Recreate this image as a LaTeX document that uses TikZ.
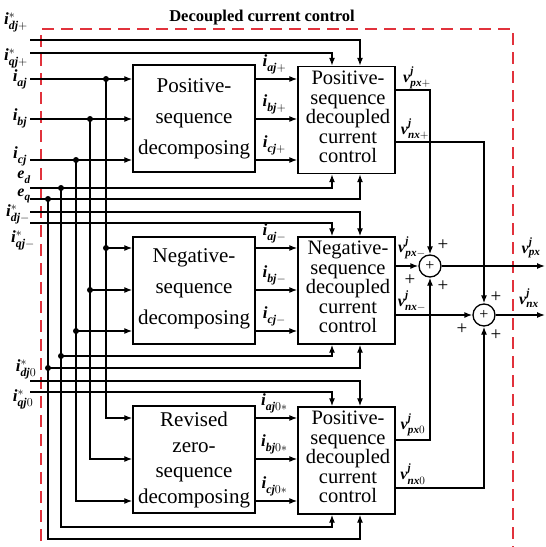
\RequirePackage{fix-cm}
\documentclass[tikz,border=0pt]{standalone}
\usepackage{amsmath}
\usepackage{fontspec}
\setmainfont{Liberation Serif}
\usetikzlibrary{arrows.meta,calc}
\definecolor{dred}{RGB}{225,50,60}
\newcommand\bs[1]{\text{\bfseries\itshape #1}}
\newcommand\sig[3]{\textbf{\textit{#1}}\ensuremath{^{#2}_{#3}}}
\begin{document}
\begin{tikzpicture}[x=1pt,y=-1pt,
 wire/.style={line width=1.3pt},
 arr/.style={wire,-{Latex[length=8pt,width=6pt]}},
 box/.style={draw,line width=1.4pt,inner sep=0pt,minimum height=107pt},
 dbox/.style={box,minimum width=122pt},
 cbox/.style={box,minimum width=97pt},
 btxt/.style={font=\fontsize{21}{31}\selectfont,align=center,inner sep=0pt},
 ztxt/.style={font=\fontsize{21}{25.5}\selectfont,align=center,inner sep=0pt},
 ctxt/.style={font=\fontsize{20.5}{19.5}\selectfont,align=center,inner sep=0pt},
 dot/.style={circle,fill,inner sep=0pt,minimum size=6pt},
 sum/.style={circle,draw,line width=1.3pt,minimum size=22pt,inner sep=0pt,font=\fontsize{16}{16}\selectfont},
 lab/.style={font=\fontsize{17}{17}\selectfont,inner sep=0pt},
 elab/.style={font=\fontsize{16}{16}\selectfont,inner sep=0pt},
 olab/.style={font=\fontsize{16}{16}\selectfont,inner sep=0pt},
 pl/.style={font=\fontsize{19}{19}\selectfont,inner sep=0pt},
]
\useasboundingbox (0,0) rectangle (546,547);
\clip (0,0) rectangle (546,547);

% dashed frame and title
\draw[dred,line width=1.2pt,dash pattern=on 12pt off 7pt] (41,560) |- (513,29) -- (513,560);
\node[font=\bfseries\fontsize{16.5}{16.5}\selectfont,inner sep=0pt] (title) at (262,18) {Decoupled current control};

% boxes
\node[dbox] (pd) at (194,118.5) {};
\node[btxt] (pdt) at (194,119) {Positive-\\sequence\\decomposing};
\node[cbox] (pc) at (346.5,120) {};
\node[ctxt] (pct) at (348,117) {Positive-\\sequence\\decoupled\\current\\control};
\node[dbox] (nd) at (194,290.5) {};
\node[btxt] (ndt) at (194,288.5) {Negative-\\sequence\\decomposing};
\node[cbox] (nc) at (346.5,290.5) {};
\node[ctxt] (nct) at (348,287) {Negative-\\sequence\\decoupled\\current\\control};
\node[dbox] (zd) at (194,459.5) {};
\node[ztxt] (zdt) at (194,460) {Revised\\zero-\\sequence\\decomposing};
\node[cbox] (zc) at (346.5,460.5) {};
\node[ctxt] (zct) at (348,457) {Positive-\\sequence\\decoupled\\current\\control};

% columns and rows
\coordinate (xa) at (106,0); \coordinate (xb) at (90,0); \coordinate (xc) at (76,0);
\coordinate (xd) at (61,0); \coordinate (xq) at (48,0);
\coordinate (cL) at (332,0); \coordinate (cR) at (360,0);
\coordinate (ra2) at (0,248); \coordinate (rb2) at (0,290); \coordinate (rc2) at (0,331);
\coordinate (red2) at (0,356); \coordinate (req2) at (0,368);
\coordinate (ra3) at (0,418); \coordinate (rb3) at (0,459); \coordinate (rc3) at (0,501);
\coordinate (red3) at (0,527); \coordinate (req3) at (0,539);
\coordinate (rpx) at (0,90); \coordinate (rnx) at (0,142);
\coordinate (rpz) at (0,440); \coordinate (rnz) at (0,488);

% input start points
\coordinate (sdp) at (30,40); \coordinate (siq) at (30,53);
\coordinate (sa) at (30,79); \coordinate (sb) at (30,119); \coordinate (sc) at (30,160);
\coordinate (sed) at (30,188); \coordinate (seq) at (30,199);
\coordinate (sdn) at (30,212); \coordinate (sqn) at (30,223);
\coordinate (sdz) at (30,381); \coordinate (sqz) at (30,392);

% input labels
\node[lab] (l1) at (16,22) {\sig{i}{*}{\bs{dj}+}};
\node[lab] (l2) at (16,58) {\sig{i}{*}{\bs{qj}+}};
\node[lab] (l3) at (20,79) {\sig{i}{}{\bs{aj}}};
\node[lab] (l4) at (20,118) {\sig{i}{}{\bs{bj}}};
\node[lab] (l5) at (20,156) {\sig{i}{}{\bs{cj}}};
\node[elab] (l6) at (24,177) {\sig{e}{}{\bs{d}}};
\node[elab] (l7) at (24,196) {\sig{e}{}{\bs{q}}};
\node[lab] (l8) at (18,214) {\sig{i}{*}{\bs{dj}-}};
\node[lab] (l9) at (23,240) {\sig{i}{*}{\bs{qj}-}};
\node[lab] (l10) at (26,369) {\sig{i}{*}{\bs{dj}0}};
\node[lab] (l11) at (23,399) {\sig{i}{*}{\bs{qj}0}};

% inputs to current control blocks
\draw[arr] (sdp) -| (cR |- pc.north);
\draw[arr] (siq) -| (cL |- pc.north);
\draw[arr] (sed) -| (cL |- pc.south);
\draw[arr] (seq) -| (cR |- pc.south);
\draw[arr] (sdn) -| (cR |- nc.north);
\draw[arr] (sqn) -| (cL |- nc.north);
\draw[arr] (sdz) -| (cR |- zc.north);
\draw[arr] (sqz) -| (cL |- zc.north);

% phase currents into decomposers
\draw[arr] (sa) -- (sa -| pd.west);
\draw[arr] (sb) -- (sb -| pd.west);
\draw[arr] (sc) -- (sc -| pd.west);

% branch dots
\node[dot] (d1) at (xa |- sa) {};
\node[dot] (d2) at (xb |- sb) {};
\node[dot] (d3) at (xc |- sc) {};
\node[dot] (d4) at (xd |- sed) {};
\node[dot] (d5) at (xq |- seq) {};
\node[dot] (d6) at (xa |- ra2) {};
\node[dot] (d7) at (xb |- rb2) {};
\node[dot] (d8) at (xc |- rc2) {};
\node[dot] (d9) at (xd |- red2) {};
\node[dot] (d10) at (xq |- req2) {};

% verticals
\draw[arr] (d1.center) |- (zd.west |- ra3);
\draw[arr] (d2.center) |- (zd.west |- rb3);
\draw[arr] (d3.center) |- (zd.west |- rc3);
\draw[arr] (d4.center) |- (cL |- red3) -- (cL |- zc.south);
\draw[arr] (d5.center) |- (cR |- req3) -- (cR |- zc.south);
\draw[arr] (d6.center) -- (nd.west |- ra2);
\draw[arr] (d7.center) -- (nd.west |- rb2);
\draw[arr] (d8.center) -- (nd.west |- rc2);
\draw[arr] (d9.center) -| (cL |- nc.south);
\draw[arr] (d10.center) -| (cR |- nc.south);

% decomposer outputs
\draw[arr] (pd.east |- sa) -- (pc.west |- sa) node[lab,pos=.45,above=4pt] (o1) {\sig{i}{}{\bs{aj}+}};
\draw[arr] (pd.east |- sb) -- (pc.west |- sb) node[lab,pos=.45,above=4pt] (o2) {\sig{i}{}{\bs{bj}+}};
\draw[arr] (pd.east |- sc) -- (pc.west |- sc) node[lab,pos=.45,above=4pt] (o3) {\sig{i}{}{\bs{cj}+}};
\draw[arr] (nd.east |- ra2) -- (nc.west |- ra2) node[lab,pos=.45,above=4pt] (o4) {\sig{i}{}{\bs{aj}-}};
\draw[arr] (nd.east |- rb2) -- (nc.west |- rb2) node[lab,pos=.45,above=4pt] (o5) {\sig{i}{}{\bs{bj}-}};
\draw[arr] (nd.east |- rc2) -- (nc.west |- rc2) node[lab,pos=.45,above=4pt] (o6) {\sig{i}{}{\bs{cj}-}};
\draw[arr] (zd.east |- ra3) -- (zc.west |- ra3) node[lab,pos=.45,above=4pt] (o7) {\sig{i}{}{\bs{aj}0*}};
\draw[arr] (zd.east |- rb3) -- (zc.west |- rb3) node[lab,pos=.45,above=4pt] (o8) {\sig{i}{}{\bs{bj}0*}};
\draw[arr] (zd.east |- rc3) -- (zc.west |- rc3) node[lab,pos=.45,above=4pt] (o9) {\sig{i}{}{\bs{cj}0*}};

% summing junctions
\node[sum] (s1) at (430,266) {+};
\node[sum] (s2) at (484,315) {+};
\coordinate (e1) at (545,266); \coordinate (e2) at (545,315);

\draw[arr] (pc.east |- rpx) -| (s1.north);
\draw[arr] (pc.east |- rnx) -| (s2.north);
\draw[arr] (nc.east |- s1) -- (s1.west);
\draw[arr] (nc.east |- s2) -- (s2.west);
\draw[arr] (zc.east |- rpz) -| (s1.south);
\draw[arr] (zc.east |- rnz) -| (s2.south);
\draw[arr] (s1.east) -- (e1);
\draw[arr] (s2.east) -- (e2);

% voltage labels
\node[olab] (v1) at (417,78) {\sig{v}{\bs{j}}{\bs{px}+}};
\node[olab] (v2) at (415,129) {\sig{v}{\bs{j}}{\bs{nx}+}};
\node[olab] (v3) at (412,248) {\sig{v}{\bs{j}}{\bs{px}-}};
\node[olab] (v4) at (412,301) {\sig{v}{\bs{j}}{\bs{nx}-}};
\node[olab] (v5) at (413,425) {\sig{v}{\bs{j}}{\bs{px}0}};
\node[olab] (v6) at (413,474) {\sig{v}{\bs{j}}{\bs{nx}0}};
\node[olab] (v7) at (531,248) {\sig{v}{\bs{j}}{\bs{px}}};
\node[olab] (v8) at (529,298) {\sig{v}{\bs{j}}{\bs{nx}}};

% signs
\node[pl] (p1) at (443,245) {+};
\node[pl] (p2) at (410,280) {+};
\node[pl] (p3) at (443,286) {+};
\node[pl] (p4) at (496,297) {+};
\node[pl] (p5) at (462,329) {+};
\node[pl] (p6) at (496,335) {+};
\end{tikzpicture}
\end{document}
